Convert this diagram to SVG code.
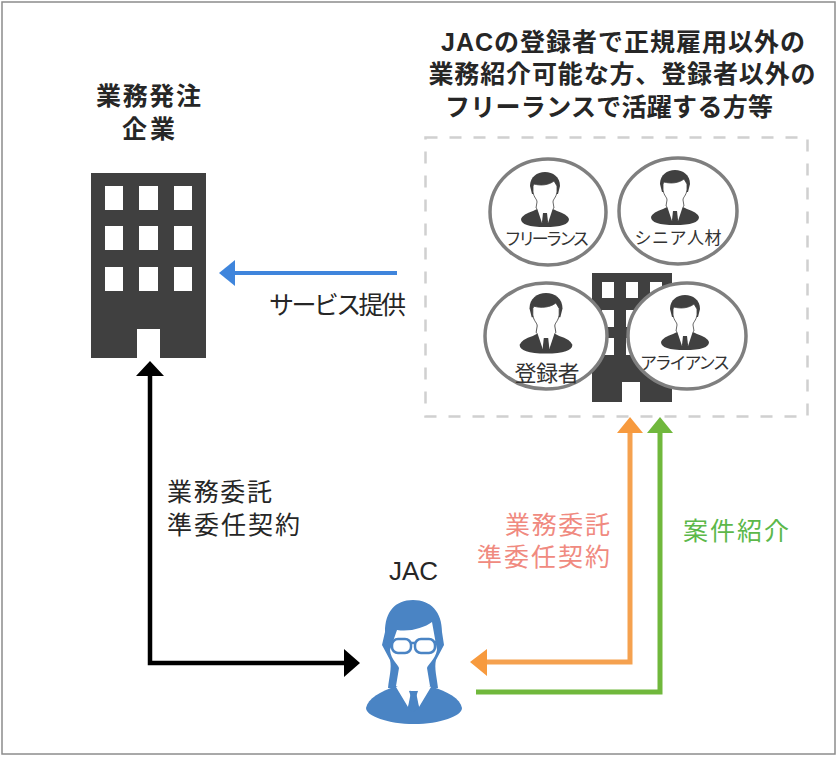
<svg xmlns="http://www.w3.org/2000/svg" width="840" height="758" viewBox="0 0 840 758">
<style>
text{font-family:"Liberation Sans","Noto Sans CJK JP",sans-serif;fill:#262626}
.b{font-weight:700;font-size:25px}
.r{font-size:25px}
.c{font-size:17px;fill:#333}
.bld{fill:#404040}
.ring{fill:#fff;stroke:#7f7f7f;stroke-width:3.5}
.w{fill:#fff}
.ln{fill:none;stroke-linejoin:miter}
</style>
<defs>
<g id="person">
<path class="bld" d="M-24,47 Q-22,42 -12,39 L-6,36 L0,41 L6,36 L12,39 Q22,42 24,47 Q24,55 0,55 Q-24,55 -24,47Z"/>
<path class="bld" d="M-15,14 C-15,5 -8,0 0,0 C8,0 15,5 15,14 L13,22 L-13,22Z"/>
<path fill="#fff" stroke="#404040" stroke-width=".8" d="M-11,12 C-4,14 4,13 9,9 L12,14 L12,20 C11,26 8,27 8,30 L9,36 L0,42 L-9,36 L-8,30 C-8,27 -11,26 -12,20 L-12,14Z"/>
<path fill="#fff" d="M-8,36 L-5,34 L0,41 L-3,51Z M8,36 L5,34 L0,41 L3,51Z"/>
<path class="bld" d="M-2,41 L2,41 L3,50 L0,53 L-3,50Z"/>
</g>
</defs>
<rect x="2" y="2" width="833" height="752" fill="#fff" stroke="#8c8c8c" stroke-width="1.5"/>
<g id="client">
<text class="b" x="148.500" y="105" text-anchor="middle" textLength="105">業務発注</text>
<text class="b" x="148.500" y="138" text-anchor="middle" textLength="53">企業</text>
<rect class="bld" x="91" y="173" width="115" height="185"/>
<path class="w" d="M105,186h18v24h-18z M139,186h19v24h-19z M174,186h18v24h-18z M105,226h18v24h-18z M139,226h19v24h-19z M174,226h18v24h-18z M105,267h18v24h-18z M139,267h19v24h-19z M174,267h18v24h-18z M137,329h23v29h-23z"/>
</g>
<g id="pool">
<text class="b" x="623" y="51" text-anchor="middle" textLength="364">JACの登録者で正規雇用以外の</text>
<text class="b" x="622" y="83" text-anchor="middle" textLength="387">業務紹介可能な方、登録者以外の</text>
<text class="b" x="609" y="116" text-anchor="middle" textLength="328">フリーランスで活躍する方等</text>
<rect x="425.500" y="137.500" width="382" height="279" fill="none" stroke="#d0d0d0" stroke-width="2.500" stroke-dasharray="12 12"/>
</g>
<g id="building2">
<rect class="bld" x="592" y="273" width="80" height="129"/>
<path class="w" d="M602,282h12v16h-12z M626,282h12v16h-12z M650,282h12v16h-12z M602,310h12v17h-12z M626,310h12v17h-12z M650,310h12v17h-12z M602,338h12v17h-12z M626,338h12v17h-12z M650,338h12v17h-12z M622,382h18v20h-18z"/>
</g>
<g id="freelance">
<ellipse class="ring" cx="548" cy="212" rx="58" ry="53"/>
<use href="#person" x="545" y="172"/>
<text class="c" x="547" y="245" text-anchor="middle" textLength="85">フリーランス</text>
</g>
<g id="senior">
<ellipse class="ring" cx="678" cy="211" rx="59" ry="53"/>
<use href="#person" x="675" y="170"/>
<text class="c" x="678" y="244" text-anchor="middle" textLength="87">シニア人材</text>
</g>
<g id="registered">
<ellipse class="ring" cx="546" cy="336" rx="61" ry="53"/>
<use href="#person" transform="translate(546 293) scale(1.1)"/>
<text class="c" style="font-size:22px" x="547" y="381" text-anchor="middle" textLength="65">登録者</text>
</g>
<g id="alliance">
<ellipse class="ring" cx="687" cy="336" rx="59" ry="53"/>
<use href="#person" x="685" y="295"/>
<text class="c" x="685" y="369" text-anchor="middle" textLength="90">アライアンス</text>
</g>
<g id="jac">
<text x="413.500" y="580" text-anchor="middle" font-size="26">JAC</text>
<g fill="#4a84c4">
<path d="M413,600 C395,600 385,612 385,632 L382,645 L390,660 C392,668 389,678 388,688 L438,688 C437,678 434,668 436,660 L444,645 L442,632 C442,612 431,600 413,600Z"/>
<path d="M366,708 C368,698 380,692 396,686 L430,686 C448,692 460,698 462,708 C462,716 440,724 414,724 C388,724 366,716 366,708Z"/>
</g>
<path fill="#fff" d="M397,630 C410,632 424,628 432,622 L437,650 C435,660 428,664 427,668 L430,686 L414,692 L396,686 L399,668 C398,664 391,660 390,650Z"/>
<path fill="#fff" d="M396,687 L404,683 L411,692 L408,707Z M431,687 L423,683 L416,692 L419,707Z"/>
<path fill="#4a84c4" d="M409,691 L418,691 L416,697 L419,708 L413,712 L408,708 L411,697Z"/>
<g fill="#fff" stroke="#4a84c4" stroke-width="2.500">
<rect x="392" y="639" width="19" height="14" rx="6"/>
<rect x="415" y="639" width="20" height="14" rx="6"/>
</g>
<path d="M411,643 L415,643 M385,641 L392,642 M435,642 L442,641" stroke="#4a84c4" stroke-width="2.500" fill="none"/>
</g>
<g id="connectors">
<path class="ln" stroke="#3f85dc" stroke-width="4" d="M397,273 H232"/>
<path fill="#3f85dc" d="M219,273 L235,260 V286Z"/>
<path class="ln" stroke="#000" stroke-width="4.500" d="M150,372 V663 H346"/>
<path d="M150,361 L164,376 H136Z M360,663 L344,649 V677Z"/>
<path class="ln" stroke="#f5a14f" stroke-width="5" d="M630,430 V662 H482"/>
<path fill="#f79a3e" d="M630,417 L643,433 H617Z M470,662 L487,649 V676Z"/>
<path class="ln" stroke="#70b83c" stroke-width="5" d="M660,430 V692 H476"/>
<path fill="#70b83c" d="M660,417 L673,433 H647Z"/>
<text class="r" x="269" y="314" textLength="137">サービス提供</text>
<text class="r" x="167" y="501" textLength="105">業務委託</text>
<text class="r" x="167" y="534" textLength="133">準委任契約</text>
<text class="r" x="505" y="534" textLength="105" style="fill:#f08a80">業務委託</text>
<text class="r" x="477" y="566" textLength="133" style="fill:#f08a80">準委任契約</text>
<text class="r" x="683" y="540" textLength="106" style="fill:#5cb84a">案件紹介</text>
</g>
</svg>
